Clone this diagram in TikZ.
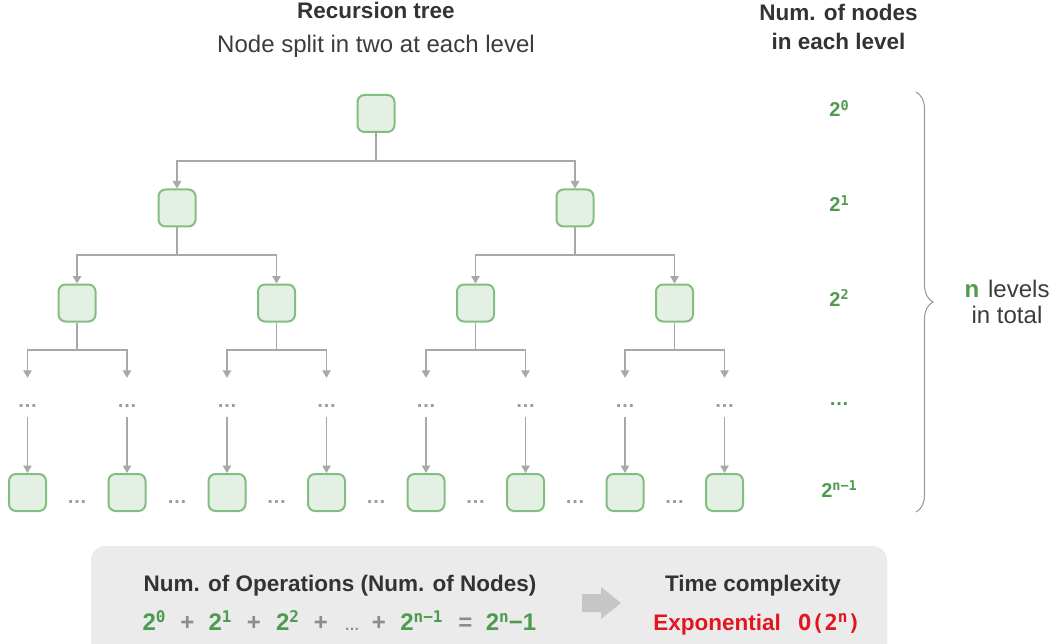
\documentclass[tikz,border=0pt]{standalone}
\usepackage{fontspec}
\setmainfont{Liberation Sans}
\newfontfamily\mono{DejaVu Sans Mono}
\usetikzlibrary{arrows.meta,decorations.pathreplacing}
\definecolor{nodeF}{HTML}{E4F0E3}
\definecolor{nodeG}{HTML}{82BE82}
\definecolor{lineG}{HTML}{A8A8A8}
\definecolor{greenT}{HTML}{4E9A4E}
\definecolor{darkT}{HTML}{333333}
\definecolor{regT}{HTML}{3C3C3C}
\definecolor{redT}{HTML}{E3161F}
\definecolor{boxF}{HTML}{EBEBEB}
\definecolor{arrF}{HTML}{C6C6C6}
\definecolor{opG}{HTML}{8C8C8C}
\definecolor{dotG}{HTML}{9C9C9C}
\newcommand\supR[1]{\raisebox{6.5pt}{\fontsize{13.5}{13.5}\selectfont\mono\bfseries #1}}
\newcommand\supF[1]{\raisebox{8pt}{\fontsize{16}{16}\selectfont\mono\bfseries #1}}
\begin{document}
\begin{tikzpicture}[x=1pt,y=-1pt,
  tnode/.style={draw=nodeG, fill=nodeF, line width=2pt, rounded corners=7pt,
    minimum width=37pt, minimum height=37pt, inner sep=0pt},
  conn/.style={draw=lineG, line width=1.3pt},
  arr/.style={conn, -{Triangle[width=8.5pt,length=7.5pt]}},
  dotrow/.style={inner sep=0pt, text height=29.5pt, text depth=9.5pt, anchor=base,
    text=dotG, font=\fontsize{20}{20}\selectfont\bfseries},
  hdots/.style={inner sep=0pt, anchor=base, text=dotG, font=\fontsize{20}{20}\selectfont\bfseries},
  boldT/.style={inner sep=0pt, anchor=base, text=darkT, font=\fontsize{22.5}{26}\selectfont\bfseries},
  regTx/.style={inner sep=0pt, anchor=base, text=regT, font=\fontsize{24}{28}\selectfont},
  lab/.style={inner sep=0pt, anchor=base, text=greenT, font=\fontsize{20}{20}\selectfont\bfseries},
  fpow/.style={inner sep=0pt, anchor=base, text=greenT, font=\fontsize{24}{24}\selectfont\bfseries},
  fop/.style={inner sep=0pt, anchor=base, text=opG, font=\fontsize{24}{24}\selectfont\bfseries},
  brc/.style={draw=dotG, line width=1.1pt, decorate, decoration={brace, amplitude=17pt, aspect=0.5}}
]
\useasboundingbox (0,0) rectangle (1051,644);

% titles
\node[boldT] (t1) at (376,19) {Recursion tree};
\node[regTx] (t2) at (376,53) {Node split in two at each level};
\node[boldT] (h1) at (838.5,21) {Num. of nodes};
\node[boldT] (h2) at (838.5,50) {in each level};

% tree nodes
\node[tnode] (r) at (376,113.5) {};
\node[tnode] (a1) at (177,208) {};
\node[tnode] (a2) at (575,208) {};
\foreach \x [count=\i] in {77,276.5,475.5,674.5}
  \node[tnode] (b\i) at (\x,303) {};
\foreach \x [count=\i] in {27.5,127,227,326.5,426,525.5,625,724.5} {
  \node[dotrow] (d\i) at (\x,407.5) {…};
  \node[tnode] (c\i) at (\x,492.5) {};
}
\foreach \x [count=\i] in {77,177,276.5,376,475.5,575,674.5}
  \node[hdots] (e\i) at (\x,503) {…};

% junctions
\coordinate (j0) at (376,161);
\coordinate (j1) at (177,255);
\coordinate (j2) at (575,255);
\foreach \x [count=\i] in {77,276.5,475.5,674.5}
  \coordinate (k\i) at (\x,350);

% connectors
\draw[conn] (r.south) -- (j0);
\draw[arr] (j0) -| (a1.north);
\draw[arr] (j0) -| (a2.north);
\draw[conn] (a1.south) -- (j1);
\draw[arr] (j1) -| (b1.north);
\draw[arr] (j1) -| (b2.north);
\draw[conn] (a2.south) -- (j2);
\draw[arr] (j2) -| (b3.north);
\draw[arr] (j2) -| (b4.north);
\foreach \i/\l/\rr in {1/1/2,2/3/4,3/5/6,4/7/8} {
  \draw[conn] (b\i.south) -- (k\i);
  \draw[arr] (k\i) -| (d\l.north);
  \draw[arr] (k\i) -| (d\rr.north);
}
\foreach \i in {1,...,8}
  \draw[arr] (d\i.south) -- (c\i.north);

% right column
\node[lab] (l0) at (839,117) {2\supR{0}};
\node[lab] (l1) at (839,212) {2\supR{1}};
\node[lab] (l2) at (839,306) {2\supR{2}};
\node[lab] (l3) at (839,405) {…};
\node[lab] (l4) at (839,497) {2\supR{n−1}};

% brace
\coordinate (bt) at (916,92);
\coordinate (bb) at (916,512);
\draw[brc] (bt) -- (bb);
\node[regTx, anchor=base] (nl) at (1007,297) {\textcolor{greenT}{\bfseries n}\hspace{9pt}levels};
\node[regTx, anchor=base] (it) at (1007,323) {in total};

% bottom box
\fill[boxF, rounded corners=14pt] (91,546) rectangle (887,690);
\node[boldT] (ops) at (340,591) {Num. of Operations (Num. of Nodes)};
\node[fpow] (f1) at (154,630) {2\supF{0}};
\node[fop] (f2) at (187.5,630) {+};
\node[fpow] (f3) at (220,630) {2\supF{1}};
\node[fop] (f4) at (254,630) {+};
\node[fpow] (f5) at (287.5,630) {2\supF{2}};
\node[fop] (f6) at (321,630) {+};
\node[fop, font=\fontsize{15}{15}\selectfont\bfseries] (f7) at (352,630) {…};
\node[fop] (f8) at (379,630) {+};
\node[fpow] (f9) at (421.5,630) {2\supF{n−1}};
\node[fop] (f10) at (465.5,630) {=};
\node[fpow] (f11) at (511,630) {2\supF{n}−1};

% arrow
\fill[arrF] (582,594) -- (601,594) -- (601,587) -- (621,603) -- (601,619) -- (601,612) -- (582,612) -- cycle;

\node[boldT] (tc) at (753,591) {Time complexity};
\node[boldT, text=redT] (ex) at (717,630) {Exponential};
\node[inner sep=0pt, anchor=base, text=redT, font=\fontsize{22}{22}\selectfont\mono\bfseries] (oo) at (829.5,630) {O(2\supF{n})};
\end{tikzpicture}
\end{document}
